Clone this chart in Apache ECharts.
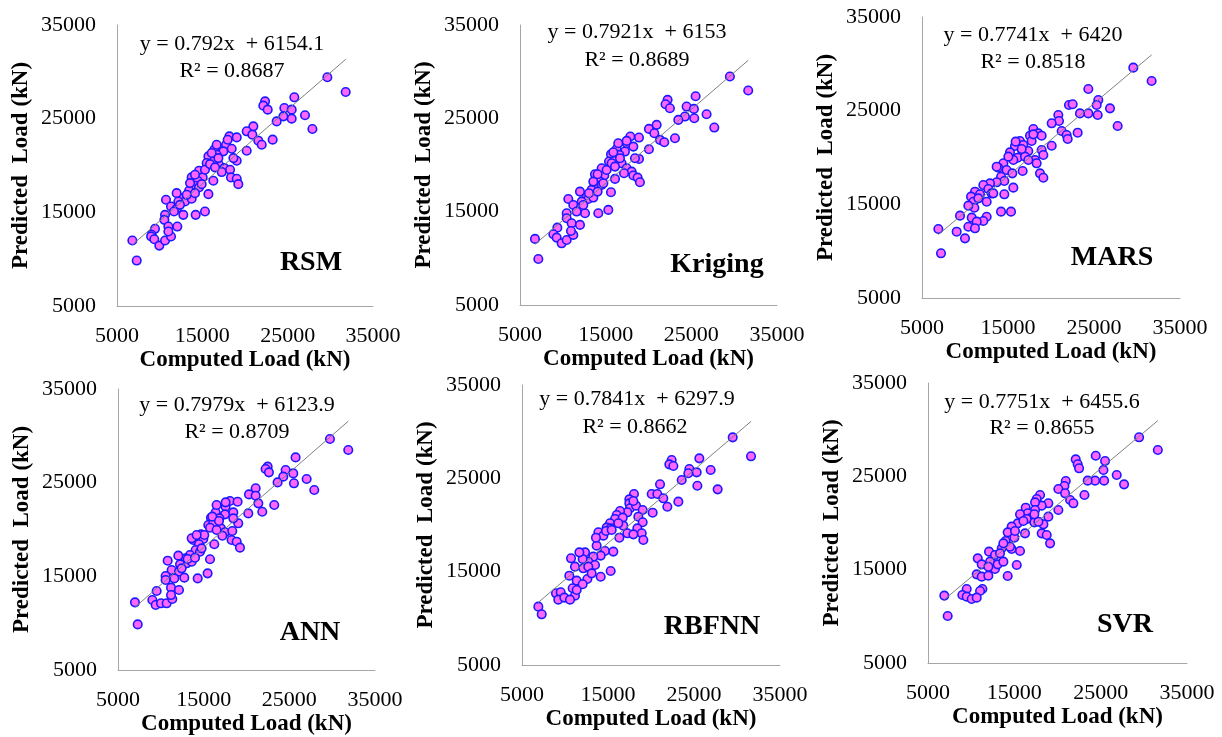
<!DOCTYPE html>
<html>
<head>
<meta charset="utf-8">
<script src="https://cdn.jsdelivr.net/npm/echarts@6/dist/echarts.min.js"></script>
<style>
html,body{margin:0;padding:0;background:#fff;}
#chart{width:1222px;height:737px;}
</style>
</head>
<body>
<div id="chart"></div>
<script>
// ---- Data (Computed Load kN, Predicted Load kN) ----
const modelNames = ["RSM", "Kriging", "MARS", "ANN", "RBFNN", "SVR"];
const slopes = [0.792, 0.7921, 0.7741, 0.7979, 0.7841, 0.7751];
const intercepts = [6154.1, 6153, 6420, 6123.9, 6297.9, 6455.6];
const equationLabels = ["y = 0.792x  + 6154.1", "y = 0.7921x  + 6153", "y = 0.7741x  + 6420",
                        "y = 0.7979x  + 6123.9", "y = 0.7841x  + 6297.9", "y = 0.7751x  + 6455.6"];
const r2Labels = ["R² = 0.8687", "R² = 0.8689", "R² = 0.8518", "R² = 0.8709", "R² = 0.8662", "R² = 0.8655"];
const axisTicks = [5000, 15000, 25000, 35000];
const xTitle = "Computed Load (kN)";
const yTitle = "Predicted  Load (kN)";

const rsmPoints = [[6800,11990],[7310,9850],[29650,29420],[31800,27850],[22350,26850],[22150,26390],[22660,25960],[25780,27280],[24610,26140],[25470,25960],[25470,25000],[27030,25360],[27900,23900],[24500,25250],[23710,24710],[20980,24180],[20200,23650],[20860,23290],[21560,22650],[21960,22220],[23240,22760],[20200,21580],[18170,23110],[19030,23000],[17780,22220],[18440,21790],[17460,21510],[16410,21690],[16680,21150],[15710,20970],[15510,20260],[16950,20080],[16290,20440],[17580,19720],[18250,19550],[19030,20510],[18360,18730],[19030,18580],[19220,18010],[17270,19300],[16290,18370],[14610,19440],[13750,18730],[15040,18730],[14450,18370],[14220,17840],[13440,17300],[14610,17660],[15710,16940],[12770,16520],[11990,17050],[12970,16160],[13750,16450],[12190,16160],[10740,16340],[11330,15620],[11990,15370],[12770,14730],[10630,14730],[10550,14200],[15310,15090],[14220,14730],[11020,13480],[12070,13480],[9450,13240],[9060,12600],[9000,12420],[9370,12130],[9960,11450],[10630,11990],[11330,12420],[11020,12950],[11680,15090],[12380,15800],[13170,16870],[14140,17050],[14920,18010],[15310,19550],[15900,20150],[16680,22220],[17970,22750],[16100,21330],[16880,20790],[16490,19800],[18640,20790],[13560,18120],[14140,19010]];
const krigingPoints = [[6750,12080],[7140,9930],[29500,29480],[31640,27980],[22230,26980],[21990,26510],[22500,26080],[25500,27370],[24450,26260],[25300,26010],[25340,25010],[26780,25440],[27680,24010],[24250,25190],[23480,24830],[20950,24300],[20050,23870],[20680,23400],[21340,22690],[21840,22440],[23090,22870],[20050,21690],[17880,23050],[18890,22940],[17450,22330],[18230,21970],[17250,21440],[16280,21720],[16590,21080],[15620,21150],[15390,20370],[16860,20190],[16010,20440],[17450,19650],[18030,19290],[18890,20650],[18230,18870],[18730,18650],[19000,18150],[17140,19120],[16090,18510],[14530,19650],[13750,19010],[14840,18870],[14340,18220],[14060,17690],[13360,17330],[14530,17870],[15620,17080],[12780,16610],[12000,17150],[12970,16360],[13560,16510],[12200,16080],[10640,16360],[11220,15720],[12120,15440],[12590,14830],[10450,14830],[10450,14290],[15310,15190],[14140,14830],[11030,13760],[12000,13580],[9360,13290],[8890,12580],[9280,12220],[9860,11610],[10450,11970],[11220,12510],[10950,12930],[11610,15010],[12390,15720],[13050,16970],[14060,17150],[14730,18040],[15110,19470],[15700,20190],[16470,22330],[17450,22580],[15890,21370],[16670,20720],[16090,19830],[18420,20720],[13560,18220],[14060,19010]];
const marsPoints = [[6900,12370],[7210,9770],[29570,29590],[31700,28170],[24340,27310],[22090,25600],[22520,25680],[25500,26140],[25310,25600],[24340,24710],[23370,24710],[25430,24540],[26860,25250],[27750,23360],[20850,24540],[20930,23900],[20080,23650],[21240,22830],[21820,22400],[21940,21970],[23100,22650],[20080,21260],[17950,23040],[18530,22580],[18910,22330],[17560,22330],[17750,21760],[16390,21760],[16780,21330],[15810,21230],[15230,20550],[16670,20690],[16120,19980],[17360,20690],[16980,20090],[18910,20800],[19110,20270],[18140,19730],[18330,19380],[18720,18310],[19110,17840],[16700,18560],[17360,19730],[15620,19730],[14460,19380],[13880,18910],[14840,18660],[15500,18310],[14190,17950],[14570,17490],[15620,16780],[13680,17350],[12910,17240],[12130,17060],[12710,16640],[13100,16170],[11160,16350],[11740,16070],[12520,15280],[10700,15820],[10970,15280],[11090,14640],[10390,14860],[12520,13680],[12130,13220],[14190,14220],[15350,14220],[9420,13790],[10780,13580],[11360,13150],[10390,12610],[11160,12440],[9030,12080],[10000,11370],[11550,15640],[13680,19020],[15040,20090],[16590,20910],[15890,21690],[17950,22470],[14570,16070],[13290,16170]];
const annPoints = [[6980,12220],[7300,9870],[29740,29660],[31880,28490],[22470,26710],[22230,26460],[22620,26100],[25730,27700],[24570,26350],[25460,25990],[25540,24930],[27020,25390],[27910,24220],[24290,25640],[23630,25030],[21070,24400],[20290,23750],[21070,23610],[21380,22790],[21840,21900],[23240,22620],[20210,21720],[18070,23040],[18960,22970],[17560,22440],[18460,21830],[17490,21620],[16400,21830],[16830,21190],[15850,21260],[15540,20480],[17020,20120],[16120,20660],[17490,19700],[18340,19840],[19040,20660],[18260,18880],[18850,18700],[19240,18060],[17180,19340],[16240,18420],[14690,19480],[13790,18880],[14960,18990],[14450,18420],[14060,17810],[13400,17280],[14570,17630],[15740,16820],[12900,16920],[12040,17210],[13010,16390],[13600,16560],[12240,16280],[10800,16670],[11260,15670],[12120,15500],[12740,14860],[10560,15030],[10560,14610],[15460,15320],[14300,14780],[11190,13790],[12120,13540],[9510,13430],[9010,12470],[9400,11940],[10020,12120],[10680,12120],[11340,12580],[11190,13000],[11570,14780],[12430,15850],[13130,16850],[13990,16990],[14760,17990],[15070,19410],[15740,20190],[16510,22610],[17560,22900],[16010,21370],[16790,20910],[16510,19950],[18460,21190],[13600,19060],[14180,19410]];
const rbfnnPoints = [[6900,11250],[7290,10430],[29500,29390],[31630,27360],[22400,26960],[22130,26500],[22600,26320],[25620,27140],[24460,26000],[25310,25640],[25390,24210],[26940,25890],[27750,23820],[24340,25540],[23570,24820],[21050,24360],[20080,23320],[20740,23320],[21430,22860],[21900,21960],[23180,22500],[20190,21320],[18020,23320],[17480,22750],[17480,22320],[17560,21790],[17250,21360],[18260,22070],[19030,21610],[16400,21500],[16010,21070],[15810,20640],[16710,20790],[15230,20180],[14840,19720],[13880,19220],[14460,18860],[15310,19640],[16780,19930],[17250,19110],[16320,18640],[18530,20890],[19030,20290],[18410,19640],[18920,19110],[19110,18390],[17950,19000],[13680,17790],[14650,17220],[15620,17150],[14150,16720],[12330,17070],[13290,16610],[12710,16070],[12050,16360],[10700,16430],[11160,15540],[12130,15360],[13490,15720],[12710,15540],[10500,14570],[15310,15070],[14150,14460],[12600,14220],[11360,14040],[12050,13650],[10890,13220],[11160,12430],[8950,12680],[9500,12790],[9220,12000],[9920,12220],[10580,12000],[11360,13040],[11670,17070],[13100,14820],[14770,19360],[13600,18640],[16200,20180],[17950,22570],[15430,19470]];
const svrPoints = [[6890,12220],[7280,10040],[29450,29180],[31620,27820],[22110,26820],[22340,26290],[22500,25860],[24430,27210],[25510,26640],[25320,25680],[24350,24540],[25400,24540],[26860,25140],[27710,24140],[23500,24540],[20960,24500],[20800,23960],[20100,23640],[20880,23180],[21460,22460],[21840,22110],[23120,23000],[20100,21390],[17980,23000],[17590,22570],[18940,22110],[18170,21860],[17400,22210],[17400,21390],[16320,21640],[16550,21040],[15660,20930],[16820,20500],[16430,20430],[17320,20070],[18940,20680],[18370,19860],[18170,18890],[18750,18710],[19140,17820],[16240,18890],[15390,19960],[14690,19610],[14230,19000],[15000,18430],[13990,18070],[13540,17290],[14690,17210],[15660,17000],[12070,16930],[12760,16570],[13340,16750],[10760,16210],[11220,15570],[12190,15860],[12760,15070],[13070,15570],[10640,14500],[11220,14250],[11990,14360],[14230,14320],[15280,15500],[11300,12930],[11030,12720],[9480,12930],[8980,12290],[9480,12110],[10060,11860],[10640,12000],[11990,15320],[13730,15860],[14500,17460],[15080,19140],[16050,20210],[17790,20140],[17320,20930],[13730,17820]];
const allPoints = [rsmPoints, krigingPoints, marsPoints, annPoints, rbfnnPoints, svrPoints];

// ---- Layout (pixels) ----
const panels = [
  {grid:{left:117,top:25,width:256,height:281}, eq:[232,44], r2:[232,71], label:[311,263]},
  {grid:{left:520,top:25,width:257,height:280}, eq:[637,32], r2:[637,60], label:[717,265]},
  {grid:{left:922,top:17,width:258,height:281}, eq:[1033,35], r2:[1033,62], label:[1112,258]},
  {grid:{left:118,top:389,width:257,height:281}, eq:[237,405], r2:[237,432], label:[310,633]},
  {grid:{left:522,top:385,width:258,height:280}, eq:[637,399], r2:[635,427], label:[712,627]},
  {grid:{left:928,top:383,width:259,height:280}, eq:[1042,402], r2:[1042,428], label:[1125,625]}
];

const SERIF = "'Liberation Serif','Times New Roman',serif";
const axisMin = axisTicks[0], axisMax = axisTicks[axisTicks.length-1];
const axisInterval = axisTicks[1] - axisTicks[0];
const plainNumber = v => String(Math.round(v));

const grids = [], xAxes = [], yAxes = [], series = [], graphics = [];
panels.forEach((p, i) => {
  grids.push(Object.assign({containLabel:false}, p.grid));
  const common = {
    gridIndex: i, type: 'value', min: axisMin, max: axisMax, interval: axisInterval,
    axisLine: {show: true, onZero: false, lineStyle: {color: '#a6a6a6', width: 1}},
    axisTick: {show: false}, splitLine: {show: false},
    nameLocation: 'middle',
    nameTextStyle: {fontFamily: SERIF, fontWeight: 'bold', fontSize: 23, color: '#000'}
  };
  xAxes.push(Object.assign({}, common, {
    name: xTitle, nameGap: 43,
    axisLabel: {fontFamily: SERIF, fontSize: 22, color: '#000', margin: 19, formatter: plainNumber}
  }));
  yAxes.push(Object.assign({}, common, {
    name: yTitle, nameGap: 84,
    axisLabel: {fontFamily: SERIF, fontSize: 22, color: '#000', margin: 21, formatter: plainNumber}
  }));
  const pts = allPoints[i];
  series.push({
    type: 'scatter', xAxisIndex: i, yAxisIndex: i, data: pts,
    symbol: 'circle', symbolSize: 8.5, silent: true,
    itemStyle: {color: '#ff66ff', borderColor: '#1a1aff', borderWidth: 1.6, opacity: 1},
    z: 2
  });
  const xs = pts.map(d => d[0]);
  const x0 = Math.min.apply(null, xs), x1 = Math.max.apply(null, xs);
  series.push({
    type: 'line', xAxisIndex: i, yAxisIndex: i, symbol: 'none', silent: true,
    data: [[x0, slopes[i]*x0 + intercepts[i]], [x1, slopes[i]*x1 + intercepts[i]]],
    lineStyle: {color: '#7f7f7f', width: 1}, z: 3
  });
  const txt = (t, pos, size, weight) => ({
    type: 'text', x: pos[0], y: pos[1], silent: true, z: 10,
    style: {text: t, font: weight + ' ' + size + 'px ' + SERIF, fill: '#000',
            align: 'center', verticalAlign: 'middle', textAlign: 'center', textVerticalAlign: 'middle'}
  });
  graphics.push(txt(equationLabels[i], p.eq, 22, 'normal'));
  graphics.push(txt(r2Labels[i], p.r2, 22, 'normal'));
  graphics.push(txt(modelNames[i], p.label, 28, 'bold'));
});

const chart = echarts.init(document.getElementById('chart'), null, {renderer: 'canvas'});
chart.setOption({
  animation: false,
  backgroundColor: '#fff',
  grid: grids, xAxis: xAxes, yAxis: yAxes, series: series, graphic: graphics
});
</script>
</body>
</html>
